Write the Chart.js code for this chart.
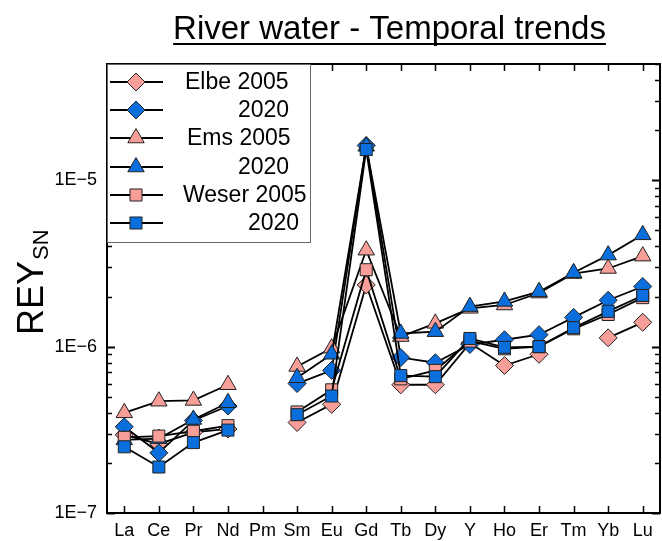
<!DOCTYPE html>
<html>
<head>
<meta charset="utf-8">
<script src="https://cdn.jsdelivr.net/npm/chart.js@4.4.1/dist/chart.umd.min.js"></script>
<style>
  html, body { margin: 0; padding: 0; background: #fff; }
</style>
</head>
<body>
<canvas id="grafico" width="662" height="541"></canvas>
<script>
// elementos (REY) en el eje x
const elementos = ['La', 'Ce', 'Pr', 'Nd', 'Pm', 'Sm', 'Eu', 'Gd', 'Tb', 'Dy', 'Y', 'Ho', 'Er', 'Tm', 'Yb', 'Lu'];

// valores normalizados (shale-normalized)
const elbe2005  = [2.95e-7, 2.6e-7, 3.05e-7, 3.2e-7, null, 3.5e-7, 4.5e-7, 2.35e-6, 5.9e-7, 5.9e-7, 1.05e-6, 7.7e-7, 9.0e-7, null, 1.13e-6, 1.4e-6];
const elbe2020  = [3.3e-7, 2.3e-7, 3.6e-7, 4.4e-7, null, 6.0e-7, 7.2e-7, 1.62e-5, 8.6e-7, 8.0e-7, 1.03e-6, 1.1e-6, 1.18e-6, 1.5e-6, 1.9e-6, 2.3e-6];
const ems2005   = [4.0e-7, 4.7e-7, 4.75e-7, 5.9e-7, null, 7.6e-7, 9.8e-7, 3.8e-6, 1.15e-6, 1.38e-6, 1.7e-6, 1.78e-6, 2.1e-6, 2.75e-6, 2.95e-6, 3.5e-6];
const ems2020   = [2.75e-7, 2.8e-7, 3.65e-7, 4.6e-7, null, 6.5e-7, 9.0e-7, 1.6e-5, 1.2e-6, 1.23e-6, 1.74e-6, 1.87e-6, 2.14e-6, 2.78e-6, 3.55e-6, 4.7e-6];
const weser2005 = [2.85e-7, 2.9e-7, 3.1e-7, 3.35e-7, null, 4.05e-7, 5.5e-7, 2.9e-6, 6.4e-7, 7.2e-7, 1.08e-6, 9.7e-7, 1.0e-6, 1.28e-6, 1.56e-6, 1.97e-6];
const weser2020 = [2.5e-7, 1.89e-7, 2.65e-7, 3.15e-7, null, 3.9e-7, 5.05e-7, 1.53e-5, 6.7e-7, 6.6e-7, 1.12e-6, 9.9e-7, 1.0e-6, 1.3e-6, 1.63e-6, 2.03e-6];

const etiquetas = ['Elbe 2005', '2020', 'Ems 2005', '2020', 'Weser 2005', '2020'];
const yMin = 1e-7;
const yMax = 5e-5;

const rosa = '#F89E99';
const azul = '#0A6FDC';
const fuente = '"Liberation Sans", Arial, sans-serif';

function serie(label, data, color, forma, radio, orden) {
    return {
        label: label,
        data: data,
        borderColor: '#000',
        borderWidth: 1.8,
        backgroundColor: color,
        pointBackgroundColor: color,
        pointBorderColor: '#222',
        pointBorderWidth: 1,
        pointStyle: forma,
        pointRadius: radio,
        pointHoverRadius: radio,
        spanGaps: false,
        tension: 0,
        order: orden
    };
}

const datasets = [
    serie(etiquetas[0], elbe2005, rosa, 'rectRot', 9, 6),
    serie(etiquetas[1], elbe2020, azul, 'rectRot', 9, 5),
    serie(etiquetas[2], ems2005, rosa, 'triangle', 9.5, 4),
    serie(etiquetas[3], ems2020, azul, 'triangle', 9.5, 3),
    serie(etiquetas[4], weser2005, rosa, 'rect', 8.5, 2),
    serie(etiquetas[5], weser2020, azul, 'rect', 8.5, 1)
];

function esPotencia(v) {
    const l = Math.log10(v);
    return Math.abs(l - Math.round(l)) < 1e-6;
}

// marco, ticks hacia dentro, titulo, leyenda
const extras = {
    id: 'extras',
    afterDraw(chart) {
        const ctx = chart.ctx;
        const a = chart.chartArea;
        const xs = chart.scales.x;
        const ys = chart.scales.y;
        ctx.save();
        ctx.strokeStyle = '#000';
        ctx.lineWidth = 2;
        ctx.strokeRect(a.left, a.top, a.right - a.left, a.bottom - a.top);

        // ticks x (abajo y arriba)
        ctx.lineWidth = 1.5;
        elementos.forEach((e, i) => {
            const px = Math.round(xs.getPixelForValue(i)) + 0.5;
            ctx.beginPath();
            ctx.moveTo(px, a.bottom); ctx.lineTo(px, a.bottom - 7);
            ctx.moveTo(px, a.top); ctx.lineTo(px, a.top + 7);
            ctx.stroke();
        });

        // ticks y (izquierda y derecha)
        for (let d = -7; d <= -5; d++) {
            for (let m = 1; m <= 9; m++) {
                const v = m * Math.pow(10, d);
                if (v < yMin * 0.999 || v > yMax * 1.001) continue;
                const py = Math.round(ys.getPixelForValue(v)) + 0.5;
                const largo = m === 1 ? 8 : 5;
                ctx.lineWidth = m === 1 ? 2 : 1.5;
                ctx.beginPath();
                ctx.moveTo(a.left, py); ctx.lineTo(a.left + largo, py);
                ctx.moveTo(a.right, py); ctx.lineTo(a.right - largo, py);
                ctx.stroke();
            }
        }

        // titulo subrayado
        ctx.fillStyle = '#000';
        ctx.font = '33px ' + fuente;
        ctx.textAlign = 'center';
        ctx.textBaseline = 'alphabetic';
        const titulo = 'River water - Temporal trends';
        ctx.fillText(titulo, 389.5, 39);
        const w = ctx.measureText(titulo).width;
        ctx.lineWidth = 2;
        ctx.beginPath();
        ctx.moveTo(389.5 - w / 2, 44); ctx.lineTo(389.5 + w / 2, 44);
        ctx.stroke();

        // titulo eje y: REY con subindice SN
        ctx.save();
        ctx.translate(43, 335);
        ctx.rotate(-Math.PI / 2);
        ctx.textAlign = 'left';
        ctx.font = '36px ' + fuente;
        ctx.fillText('REY', 0, 0);
        const wr = ctx.measureText('REY').width;
        ctx.font = '22px ' + fuente;
        ctx.fillText('SN', wr + 1, 5);
        ctx.restore();

        // leyenda
        ctx.fillStyle = '#fff';
        ctx.fillRect(a.left + 1, a.top + 1, 203, 177);
        ctx.strokeStyle = '#666';
        ctx.lineWidth = 1;
        ctx.strokeRect(a.left + 0.5, a.top + 0.5, 203, 178);
        const filas = [82, 110, 138, 167, 195, 223];
        const inicioTexto = [185, 238, 187, 238, 183, 248];
        datasets.forEach((ds, i) => {
            const y = filas[i];
            ctx.strokeStyle = '#000';
            ctx.lineWidth = 2;
            ctx.beginPath();
            ctx.moveTo(110, y); ctx.lineTo(163, y);
            ctx.stroke();
            ctx.fillStyle = ds.pointBackgroundColor;
            ctx.strokeStyle = '#222';
            ctx.lineWidth = 1;
            Chart.helpers.drawPoint(ctx, {
                pointStyle: ds.pointStyle,
                radius: ds.pointRadius,
                rotation: 0,
                borderWidth: 1
            }, 136, y);
            ctx.fillStyle = '#000';
            ctx.font = '23px ' + fuente;
            ctx.textAlign = 'left';
            ctx.textBaseline = 'middle';
            ctx.fillText(ds.label, inicioTexto[i], y + 1);
        });
        ctx.restore();
    }
};

const config = {
    type: 'line',
    data: {
        labels: elementos,
        datasets: datasets
    },
    options: {
        responsive: false,
        animation: false,
        devicePixelRatio: 1,
        layout: { autoPadding: false, padding: { top: 64, right: 2, left: 0, bottom: 0 } },
        plugins: {
            legend: { display: false },
            tooltip: { enabled: false },
            title: { display: false }
        },
        scales: {
            x: {
                type: 'category',
                offset: true,
                grid: { display: false, drawTicks: false },
                border: { display: false },
                ticks: {
                    color: '#000',
                    font: { family: fuente, size: 18 },
                    padding: 7,
                    maxRotation: 0,
                    autoSkip: false
                },
                afterFit: s => { s.height = 28; }
            },
            y: {
                type: 'logarithmic',
                min: yMin,
                max: yMax,
                grid: { display: false, drawTicks: false },
                border: { display: false },
                ticks: {
                    color: '#000',
                    font: { family: fuente, size: 18 },
                    padding: 10,
                    autoSkip: false,
                    callback: v => esPotencia(v) ? '1E\u2212' + Math.abs(Math.round(Math.log10(v))) : null
                },
                afterFit: s => { s.width = 107; }
            }
        }
    },
    plugins: [extras]
};

const grafico = new Chart(document.getElementById('grafico').getContext('2d'), config);
</script>
</body>
</html>
